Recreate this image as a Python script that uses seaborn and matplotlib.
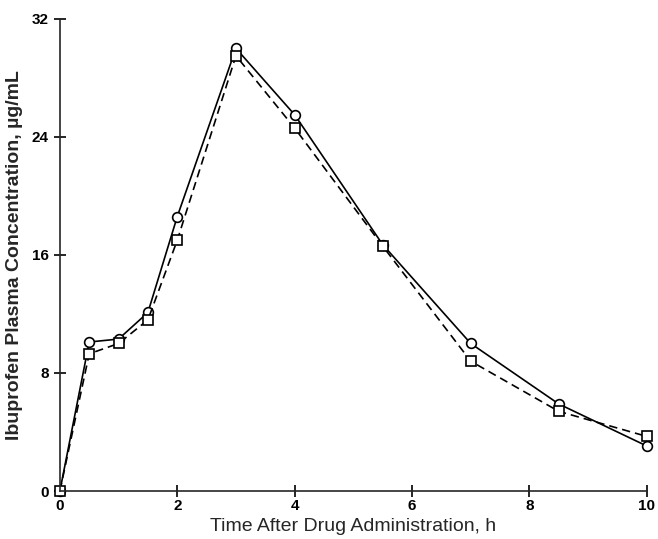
import numpy as np
import pandas as pd
import matplotlib
matplotlib.use("Agg")
import matplotlib.pyplot as plt
import seaborn as sns

# ── Data ──────────────────────────────────────────────────────────────────────
hours = [0, 0.5, 1, 1.5, 2, 3, 4, 5.5, 7, 8.5, 10]
conc_circle = [0, 10.1, 10.3, 12.1, 18.6, 30.0, 25.5, 16.7, 10.0, 5.9, 3.05]
conc_square = [0, 9.3, 10.0, 11.6, 17.0, 29.5, 24.6, 16.6, 8.8, 5.4, 3.7]
x_ticks = [0, 2, 4, 6, 8, 10]
y_ticks = [0, 8, 16, 24, 32]

df = pd.DataFrame({
    "t": hours * 2,
    "conc": conc_circle + conc_square,
    "form": ["circle"] * len(hours) + ["square"] * len(hours),
})

sns.set_style("ticks")
plt.rcParams["font.family"] = ["Liberation Sans", "DejaVu Sans"]

fig = plt.figure(figsize=(6.58, 5.39), dpi=100)
ax = fig.add_axes([0.091, 0.089, 0.892, 0.876])

sns.lineplot(data=df[df.form == "circle"], x="t", y="conc", ax=ax,
             color="black", lw=1.2, marker="o", markersize=7,
             markerfacecolor="white", markeredgecolor="black", markeredgewidth=1.2)
sns.lineplot(data=df[df.form == "square"], x="t", y="conc", ax=ax,
             color="black", lw=1.2, linestyle=(0, (5, 3)), marker="s", markersize=6.5,
             markerfacecolor="white", markeredgecolor="black", markeredgewidth=1.2)

ax.set_xlim(0, 10)
ax.set_ylim(0, 32)
ax.set_xticks(x_ticks)
ax.set_yticks(y_ticks)
for m in ax.lines:
    m.set_clip_on(False)
sns.despine(ax=ax)
ax.spines["left"].set_linewidth(1.2)
ax.spines["bottom"].set_linewidth(1.2)
ax.tick_params(axis="both", direction="inout", length=8, width=1.2,
               labelsize=11, colors="black")
ax.tick_params(axis="x", pad=2)
ax.tick_params(axis="y", pad=4)
for lbl in ax.get_xticklabels() + ax.get_yticklabels():
    lbl.set_fontweight("bold")

ax.set_xlabel("Time After Drug Administration, h", fontsize=14, labelpad=3)
ax.set_ylabel("Ibuprofen Plasma Concentration, µg/mL", fontsize=14,
              fontweight="bold", labelpad=6)

fig.savefig("out.png", dpi=100)
